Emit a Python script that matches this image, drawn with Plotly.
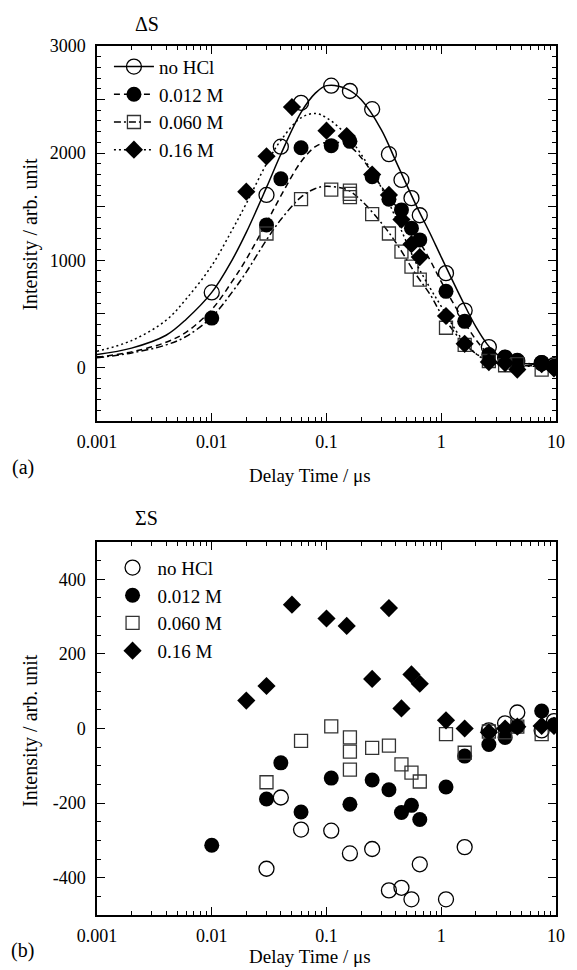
import plotly.graph_objects as go

# (a) delta S: delay time (us) and intensity for each HCl concentration
t_nohcl = [0.01, 0.03, 0.04, 0.06, 0.11, 0.16, 0.25, 0.35, 0.45, 0.55, 0.65, 1.1, 1.6, 2.6, 3.6, 4.6, 7.5, 9.6]
ds_nohcl = [700, 1610, 2060, 2470, 2630, 2580, 2410, 1990, 1750, 1580, 1420, 880, 530, 190, 90, 60, 40, 20]

t_012 = [0.01, 0.03, 0.04, 0.06, 0.11, 0.16, 0.25, 0.35, 0.45, 0.55, 0.65, 1.1, 1.6, 2.6, 3.6, 4.6, 7.5, 9.6]
ds_012 = [460, 1330, 1760, 2050, 2070, 2110, 1780, 1570, 1470, 1300, 1190, 710, 430, 120, 95, 60, 45, 10]

t_060 = [0.03, 0.06, 0.11, 0.16, 0.16, 0.16, 0.25, 0.35, 0.45, 0.55, 0.65, 1.1, 1.6, 2.6, 3.6, 4.6, 7.5]
ds_060 = [1250, 1570, 1660, 1650, 1620, 1590, 1430, 1250, 1080, 940, 820, 370, 210, 60, 20, 30, -20]

t_16 = [0.02, 0.03, 0.05, 0.1, 0.15, 0.25, 0.35, 0.45, 0.55, 0.65, 1.1, 1.6, 2.6, 3.6, 4.6, 7.5, 9.6]
ds_16 = [1640, 1970, 2430, 2210, 2160, 1800, 1610, 1380, 1150, 1030, 480, 220, 50, 40, -20, 30, -10]

# fitted curves
t_fit = [0.001, 0.002, 0.004, 0.006, 0.01, 0.015, 0.02, 0.03, 0.04, 0.06, 0.08, 0.1, 0.15,
         0.2, 0.3, 0.4, 0.6, 0.8, 1, 1.5, 2, 2.5, 3, 4, 6, 10]
fit_nohcl = [120, 180, 300, 450, 700, 1000, 1260, 1680, 1990, 2380, 2560, 2630, 2600,
             2500, 2220, 1930, 1520, 1250, 1030, 640, 380, 220, 130, 55, 32, 30]
fit_012 = [95, 145, 235, 330, 540, 800, 1010, 1350, 1600, 1920, 2060, 2100, 2080,
           1960, 1690, 1510, 1230, 1000, 800, 470, 260, 140, 80, 45, 35, 30]
fit_060 = [90, 135, 210, 290, 470, 700, 890, 1190, 1380, 1590, 1670, 1690, 1660,
           1560, 1350, 1170, 870, 680, 500, 250, 130, 70, 40, 20, 15, 10]
fit_16 = [150, 250, 440, 640, 950, 1280, 1530, 1900, 2120, 2330, 2370, 2330, 2170,
          1990, 1680, 1400, 980, 740, 570, 270, 130, 60, 30, 15, 10, 10]

# (b) sigma S
ss_t_nohcl = [0.03, 0.04, 0.06, 0.11, 0.16, 0.25, 0.35, 0.45, 0.55, 0.65, 1.1, 1.6, 2.6, 3.6, 4.6, 7.5, 9.6]
ss_nohcl = [-376, -185, -271, -274, -335, -323, -434, -427, -458, -364, -458, -318, -5, 14, 43, -5, 20]

ss_t_012 = [0.01, 0.03, 0.04, 0.06, 0.11, 0.16, 0.25, 0.35, 0.45, 0.55, 0.65, 1.1, 1.6, 2.6, 3.6, 4.6, 7.5, 9.6]
ss_012 = [-313, -189, -92, -224, -133, -203, -138, -164, -225, -206, -244, -157, -74, -43, -24, 5, 47, 10]

ss_t_060 = [0.03, 0.06, 0.11, 0.16, 0.16, 0.16, 0.25, 0.35, 0.45, 0.55, 0.65, 1.1, 1.6, 2.6, 3.6, 4.6, 7.5]
ss_060 = [-144, -33, 6, -24, -62, -110, -52, -46, -96, -118, -142, -15, -65, -8, -10, 5, -15]

ss_t_16 = [0.02, 0.03, 0.05, 0.1, 0.15, 0.25, 0.35, 0.45, 0.55, 0.65, 1.1, 1.6, 2.6, 3.6, 4.6, 7.5, 9.6]
ss_16 = [75, 114, 332, 295, 275, 133, 323, 54, 145, 120, 22, 0, -10, 0, 5, 7, 7]

names = ["no HCl", "0.012 M", "0.060 M", "0.16 M"]
x_ticks = [0.001, 0.01, 0.1, 1, 10]
x_ticktext = ["0.001", "0.01", "0.1", "1", "10"]
ya_ticks = [-500, 0, 500, 1000, 1500, 2000, 2500, 3000]
ya_ticktext = ["", "0", "", "1000", "", "2000", "", "3000"]
yb_ticks = [-400, -200, 0, 200, 400]
yb_ticktext = ["-400", "-200", "0", "200", "400"]

FONT = "Liberation Serif"
BLACK = "black"

symbols = [
    dict(symbol="circle-open", size=15, color=BLACK, line=dict(width=1.3, color=BLACK)),
    dict(symbol="circle", size=15, color=BLACK),
    dict(symbol="square-open", size=13, color="#333", line=dict(width=1.3, color="#333")),
    dict(symbol="diamond", size=14, color=BLACK),
]
dashes = ["solid", "6px,4px", "7px,3px,2px,3px", "2px,3px"]

fig = go.Figure()

top_data = [(t_nohcl, ds_nohcl), (t_012, ds_012), (t_060, ds_060), (t_16, ds_16)]
fits = [fit_nohcl, fit_012, fit_060, fit_16]
for i in range(4):
    fig.add_trace(go.Scatter(x=t_fit, y=fits[i], mode="lines",
                             line=dict(color=BLACK, width=1.5, dash=dashes[i], shape="spline"),
                             showlegend=False, xaxis="x", yaxis="y"))
    fig.add_trace(go.Scatter(x=top_data[i][0], y=top_data[i][1], mode="markers", marker=symbols[i],
                             showlegend=False, xaxis="x", yaxis="y"))
    # legend entry showing line + marker
    fig.add_trace(go.Scatter(x=[None], y=[None], mode="lines+markers", name=names[i],
                             line=dict(color=BLACK, width=1.5, dash=dashes[i]), marker=symbols[i],
                             legend="legend", xaxis="x", yaxis="y"))

bottom_data = [(ss_t_nohcl, ss_nohcl), (ss_t_012, ss_012), (ss_t_060, ss_060), (ss_t_16, ss_16)]
for i in range(4):
    fig.add_trace(go.Scatter(x=bottom_data[i][0], y=bottom_data[i][1], mode="markers", marker=symbols[i],
                             name=names[i], legend="legend2", xaxis="x2", yaxis="y2"))

minor_x = [m * 10 ** e for e in range(-3, 1) for m in range(2, 10)]
xaxis_common = dict(
    type="log", range=[-3, 1], tickvals=x_ticks, ticktext=x_ticktext,
    ticks="inside", ticklen=8, tickwidth=1.3, tickcolor=BLACK,
    minor=dict(ticks="inside", ticklen=4, tickwidth=1.1, tickcolor=BLACK, tickvals=minor_x),
    showline=True, linecolor=BLACK, linewidth=1.5, mirror="allticks",
    showgrid=False, zeroline=False, ticklabelstandoff=4,
    tickfont=dict(family=FONT, size=18, color=BLACK),
)
yaxis_common = dict(
    ticks="inside", ticklen=8, tickwidth=1.3, tickcolor=BLACK,
    showline=True, linecolor=BLACK, linewidth=1.5, mirror="allticks",
    showgrid=False, zeroline=False, ticklabelstandoff=6,
    tickfont=dict(family=FONT, size=18, color=BLACK),
)

legend_common = dict(
    xanchor="left", yanchor="top", bgcolor="rgba(0,0,0,0)",
    font=dict(family=FONT, size=19, color=BLACK), tracegroupgap=0, itemwidth=40,
)

fig.update_layout(
    width=577, height=970,
    margin=dict(l=97, r=16, t=46, b=55),
    paper_bgcolor="white", plot_bgcolor="white",
    font=dict(family=FONT, color=BLACK),
    xaxis=dict(xaxis_common, domain=[0, 1], anchor="y"),
    yaxis=dict(yaxis_common, domain=[0.5685, 1], anchor="x", range=[-500, 3000],
               tickvals=ya_ticks, ticktext=ya_ticktext,
               minor=dict(ticks="inside", ticklen=4, tickwidth=1.1, tickcolor=BLACK, dtick=100)),
    xaxis2=dict(xaxis_common, domain=[0, 1], anchor="y2"),
    yaxis2=dict(yaxis_common, domain=[0, 0.4292], anchor="x2", range=[-500, 500],
                tickvals=yb_ticks, ticktext=yb_ticktext,
                minor=dict(ticks="inside", ticklen=4, tickwidth=1.1, tickcolor=BLACK, dtick=50)),
    legend=dict(legend_common, x=0.026, y=0.998),
    legend2=dict(legend_common, x=0.023, y=0.4215),
)

ann_font = dict(family=FONT, size=20, color=BLACK)
annotations = [
    dict(text="ΔS", x=0.11, y=1.0253, yanchor="middle"),
    dict(text="ΣS", x=0.107, y=0.4568, yanchor="middle"),
    dict(text="(a)", x=-0.162, y=0.5144, yanchor="middle"),
    dict(text="(b)", x=-0.162, y=-0.0403, yanchor="middle"),
    dict(text="Delay Time / μs", x=0.463, y=0.4914, yanchor="bottom", font=dict(ann_font, size=19)),
    dict(text="Delay Time / μs", x=0.463, y=-0.0621, yanchor="bottom", font=dict(ann_font, size=19)),
    dict(text="Intensity / arb. unit", x=-0.144, y=0.784, yanchor="middle", textangle=-90),
    dict(text="Intensity / arb. unit", x=-0.144, y=0.2129, yanchor="middle", textangle=-90),
]
for a in annotations:
    a.setdefault("font", ann_font)
    fig.add_annotation(xref="paper", yref="paper", showarrow=False, xanchor="center", **a)

# the page's default body margin would shift the figure by 8px
fig.write_html("out.html", config={"displayModeBar": False},
               post_script="document.body.style.margin='0';")
